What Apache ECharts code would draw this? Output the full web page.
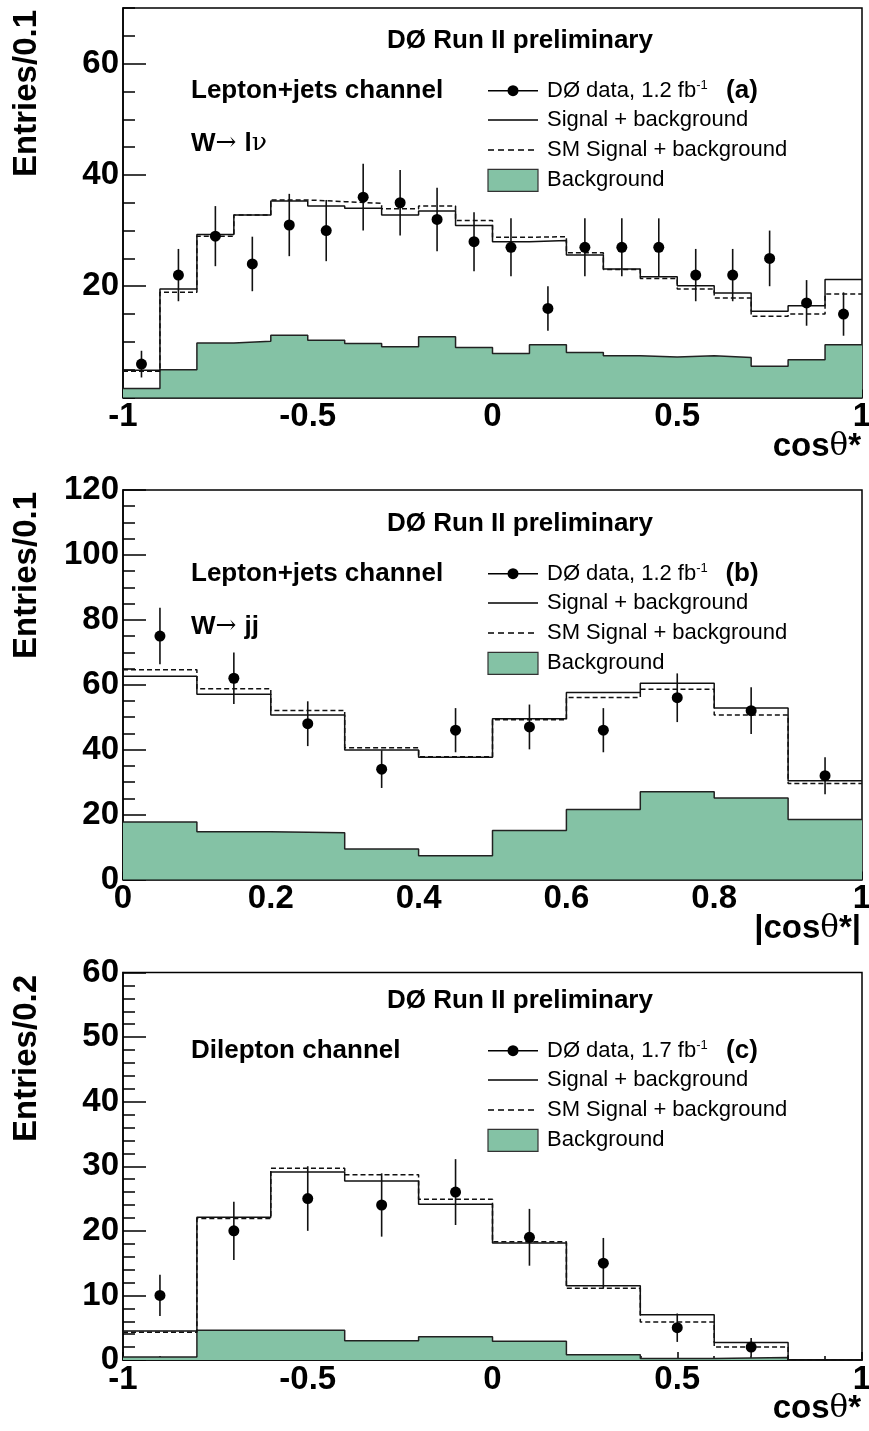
<!DOCTYPE html>
<html>
<head>
<meta charset="utf-8">
<script src="https://cdn.jsdelivr.net/npm/echarts@6/dist/echarts.min.js"></script>
<style>
html, body { margin: 0; padding: 0; background: #fff; }
#chart { width: 869px; height: 1431px; }
</style>
</head>
<body>
<div id="chart"></div>
<script>
// (a) lepton+jets, W -> l nu, cos theta*
const edgesA = [-1, -0.9, -0.8, -0.7, -0.6, -0.5, -0.4, -0.3, -0.2, -0.1, 0, 0.1, 0.2, 0.3, 0.4, 0.5, 0.6, 0.7, 0.8, 0.9, 1]
const bkgA = [1.6, 5.0, 9.8, 10.1, 11.2, 10.3, 9.7, 9.1, 10.9, 9.0, 7.9, 9.5, 8.1, 7.5, 7.3, 7.5, 7.2, 5.6, 6.8, 9.5]
const sigA = [4.9, 19.5, 29.3, 32.8, 35.3, 34.4, 34.0, 32.8, 33.5, 30.9, 28.0, 28.2, 25.6, 23.1, 21.7, 20.1, 18.8, 15.5, 16.5, 21.2]
const smA = [4.7, 18.9, 29.0, 32.8, 35.5, 35.2, 34.9, 33.9, 34.4, 31.8, 28.8, 28.9, 26.0, 23.0, 21.4, 19.5, 17.9, 14.6, 15.0, 18.6]
const dataA = [6, 22, 29, 24, 31, 30, 36, 35, 32, 28, 27, 16, 27, 27, 27, 22, 22, 25, 17, 15]
const errA = [2.4, 4.7, 5.4, 4.9, 5.6, 5.5, 6.0, 5.9, 5.7, 5.3, 5.2, 4.0, 5.2, 5.2, 5.2, 4.7, 4.7, 5.0, 4.1, 3.9]
const xTicksA = [-1, -0.5, 0, 0.5, 1]
const yTicksA = [0, 20, 40, 60]

// (b) lepton+jets, W -> jj, |cos theta*|
const edgesB = [0, 0.1, 0.2, 0.3, 0.4, 0.5, 0.6, 0.7, 0.8, 0.9, 1]
const bkgB = [17.7, 14.7, 14.4, 9.4, 7.3, 15.1, 21.6, 27.0, 25.1, 18.5]
const sigB = [62.6, 57.1, 50.7, 39.9, 37.7, 49.5, 57.6, 60.5, 52.8, 30.4]
const smB = [64.6, 58.8, 52.1, 40.6, 37.8, 49.2, 56.1, 58.6, 50.7, 29.6]
const dataB = [75, 62, 48, 34, 46, 47, 46, 56, 52, 32]
const errB = [8.7, 7.9, 6.9, 5.8, 6.8, 6.9, 6.8, 7.5, 7.2, 5.7]
const xTicksB = [0, 0.2, 0.4, 0.6, 0.8, 1]
const yTicksB = [0, 20, 40, 60, 80, 100, 120]

// (c) dilepton, cos theta*
const edgesC = [-1, -0.8, -0.6, -0.4, -0.2, 0, 0.2, 0.4, 0.6, 0.8, 1]
const bkgC = [0.45, 4.6, 4.6, 3.0, 3.6, 2.9, 0.8, 0.25, 0.4, 0]
const sigC = [4.5, 22.1, 29.1, 27.7, 24.1, 18.1, 11.5, 7.0, 2.7, 0]
const smC = [4.3, 21.9, 29.7, 28.7, 24.9, 18.3, 11.1, 5.9, 2.0, 0]
const dataC = [10, 20, 25, 24, 26, 19, 15, 5, 2, null]
const errC = [3.2, 4.5, 5.0, 4.9, 5.1, 4.4, 3.9, 2.2, 1.4, null]
const xTicksC = [-1, -0.5, 0, 0.5, 1]
const yTicksC = [0, 10, 20, 30, 40, 50, 60]

const runLabel = 'DØ Run II preliminary'
const channels = ['Lepton+jets channel', 'Lepton+jets channel', 'Dilepton channel']
const decays = ['{b|W}{n|\u2192 }{b|l}{n|\u03bd}', '{b|W}{n|\u2192 }{b|jj}', null]
const letters = ['(a)', '(b)', '(c)']
const lumis = ['1.2', '1.2', '1.7']
const yNames = ['Entries/0.1', 'Entries/0.1', 'Entries/0.2']
const xNames = ['{b|cos}{n|\u03b8}{b|*}', '{b||cos}{n|\u03b8}{b|*|}', '{b|cos}{n|\u03b8}{b|*}']
const legendNames = ['Signal + background', 'SM Signal + background', 'Background']

const GREEN = '#84c2a5'
const FONT = '"Liberation Sans", Arial, Helvetica, sans-serif'

const panels = [
  { top: 8, height: 389.5, edges: edgesA, bkg: bkgA, sig: sigA, sm: smA, data: dataA, err: errA,
    xTicks: xTicksA, xMinor: 5, yTicks: yTicksA, yMax: 70, yMinorStep: 5, showZero: false,
    titleY: 41, yNameTop: 10 },
  { top: 490, height: 389.5, edges: edgesB, bkg: bkgB, sig: sigB, sm: smB, data: dataB, err: errB,
    xTicks: xTicksB, xMinor: 4, yTicks: yTicksB, yMax: 120, yMinorStep: 5, showZero: true,
    titleY: 524, yNameTop: 492 },
  { top: 972.5, height: 387.5, edges: edgesC, bkg: bkgC, sig: sigC, sm: smC, data: dataC, err: errC,
    xTicks: xTicksC, xMinor: 5, yTicks: yTicksC, yMax: 60, yMinorStep: 2, showZero: true,
    titleY: 1001, yNameTop: 975 }
]

// histogram outline: one point per bin edge, held flat to the next edge
function steps(edges, vals) {
  const pts = vals.map((v, i) => [edges[i], v])
  pts.push([edges[edges.length - 1], vals[vals.length - 1]])
  return pts
}

function points(edges, vals, errs) {
  const out = []
  vals.forEach((v, i) => {
    if (v != null) out.push([(edges[i] + edges[i + 1]) / 2, v, errs[i]])
  })
  return out
}

function renderPoint(params, api) {
  const x = api.value(0), y = api.value(1), e = api.value(2)
  const c = api.coord([x, y])
  const hi = api.coord([x, y + e])
  const lo = api.coord([x, Math.max(y - e, 0)])
  return {
    type: 'group',
    children: [
      { type: 'line', shape: { x1: c[0], y1: hi[1], x2: c[0], y2: lo[1] },
        style: { stroke: '#111', lineWidth: 1.6 } },
      { type: 'circle', shape: { cx: c[0], cy: c[1], r: 5.5 }, style: { fill: '#000' } }
    ]
  }
}

const grids = [], xAxes = [], yAxes = [], series = [], graphics = []
const tickLabel = { color: '#000', fontSize: 33, fontWeight: 'bold', fontFamily: FONT }

panels.forEach((p, i) => {
  grids.push({ left: 123, right: 7, top: p.top, height: p.height, show: true,
    outerBoundsMode: 'none', containLabel: false,
    borderColor: '#000', borderWidth: 1.5, backgroundColor: 'transparent' })

  xAxes.push({
    type: 'value', gridIndex: i, position: 'bottom',
    min: p.xTicks[0], max: p.xTicks[p.xTicks.length - 1], interval: p.xTicks[1] - p.xTicks[0],
    axisLine: { show: true, onZero: false, lineStyle: { color: '#000', width: 1.5 } },
    axisTick: { inside: true, length: 8, lineStyle: { color: '#000', width: 1.5 } },
    minorTick: { show: true, splitNumber: p.xMinor, length: 4, lineStyle: { color: '#000', width: 1.5 } },
    axisLabel: Object.assign({ margin: 3 }, tickLabel),
    splitLine: { show: false }
  })

  // major ticks with labels
  yAxes.push({
    type: 'value', gridIndex: i, position: 'left',
    min: 0, max: p.yMax, interval: p.yTicks[1] - p.yTicks[0],
    axisLine: { show: true, onZero: false, lineStyle: { color: '#000', width: 1.5 } },
    axisTick: { inside: true, length: 23, lineStyle: { color: '#000', width: 1.5 } },
    axisLabel: Object.assign({ margin: 4, showMinLabel: p.showZero,
      showMaxLabel: p.yMax === p.yTicks[p.yTicks.length - 1] }, tickLabel),
    splitLine: { show: false }
  })
  // minor ticks only
  yAxes.push({
    type: 'value', gridIndex: i, position: 'left',
    min: 0, max: p.yMax, interval: p.yMinorStep,
    axisLine: { show: false, onZero: false },
    axisTick: { inside: true, length: 12, lineStyle: { color: '#000', width: 1.5 } },
    axisLabel: { show: false },
    splitLine: { show: false }
  })

  const base = { xAxisIndex: i, yAxisIndex: 2 * i, symbol: 'none', step: 'end', silent: true }
  series.push(Object.assign({}, base, {
    type: 'line', name: 'Background', z: 2, data: steps(p.edges, p.bkg),
    lineStyle: { color: '#222', width: 1.5 }, areaStyle: { color: GREEN, opacity: 1 }
  }))
  series.push(Object.assign({}, base, {
    type: 'line', name: 'SM Signal + background', z: 3, data: steps(p.edges, p.sm),
    lineStyle: { color: '#111', width: 1.5, type: [5, 3] }
  }))
  series.push(Object.assign({}, base, {
    type: 'line', name: 'Signal + background', z: 4, data: steps(p.edges, p.sig),
    lineStyle: { color: '#111', width: 1.5 }
  }))
  series.push({
    type: 'custom', name: 'DØ data', xAxisIndex: i, yAxisIndex: 2 * i, z: 5,
    renderItem: renderPoint, encode: { x: 0, y: 1 }, data: points(p.edges, p.data, p.err)
  })

  // labels inside the frame
  const t = p.titleY
  const bold = { fontFamily: FONT, fontWeight: 'bold', fontSize: 26, fill: '#000' }
  graphics.push({ type: 'text', x: 520, y: t, style: Object.assign({ text: runLabel, align: 'center', verticalAlign: 'middle' }, bold) })
  graphics.push({ type: 'text', x: 191, y: t + 50, style: Object.assign({ text: channels[i], align: 'left', verticalAlign: 'middle' }, bold) })
  graphics.push({ type: 'text', x: 742, y: t + 50, style: Object.assign({ text: letters[i], align: 'center', verticalAlign: 'middle' }, bold) })
  if (decays[i]) {
    graphics.push({ type: 'text', x: 191, y: t + 102.5, style: {
      text: decays[i], align: 'left', verticalAlign: 'middle',
      rich: {
        b: { fontFamily: FONT, fontWeight: 'bold', fontSize: 26, fill: '#000' },
        n: { fontFamily: '"DejaVu Serif", serif', fontSize: 25, fill: '#000' }
      }
    } })
  }

  // legend
  const rows = [t + 49.7, t + 79, t + 109, t + 139.3]
  const legText = { fontFamily: FONT, fontSize: 22, fill: '#000' }
  graphics.push({ type: 'line', shape: { x1: 488, y1: rows[0], x2: 538, y2: rows[0] }, style: { stroke: '#000', lineWidth: 1.5 } })
  graphics.push({ type: 'circle', shape: { cx: 513, cy: rows[0], r: 5.5 }, style: { fill: '#000' } })
  graphics.push({ type: 'text', x: 547, y: rows[0], style: {
    text: '{t|DØ data, ' + lumis[i] + ' fb}{s|-1}', align: 'left', verticalAlign: 'middle',
    rich: {
      t: { fontFamily: FONT, fontSize: 22, lineHeight: 24, fill: '#000' },
      s: { fontFamily: FONT, fontSize: 13, lineHeight: 24, verticalAlign: 'top', fill: '#000' }
    }
  } })
  graphics.push({ type: 'line', shape: { x1: 488, y1: rows[1], x2: 538, y2: rows[1] }, style: { stroke: '#000', lineWidth: 1.5 } })
  graphics.push({ type: 'text', x: 547, y: rows[1], style: Object.assign({ text: legendNames[0], align: 'left', verticalAlign: 'middle' }, legText) })
  graphics.push({ type: 'line', shape: { x1: 488, y1: rows[2], x2: 538, y2: rows[2] }, style: { stroke: '#000', lineWidth: 1.5, lineDash: [6, 4] } })
  graphics.push({ type: 'text', x: 547, y: rows[2], style: Object.assign({ text: legendNames[1], align: 'left', verticalAlign: 'middle' }, legText) })
  graphics.push({ type: 'rect', shape: { x: 488, y: rows[3] - 11, width: 50, height: 22 }, style: { fill: GREEN, stroke: '#333', lineWidth: 1.2 } })
  graphics.push({ type: 'text', x: 547, y: rows[3], style: Object.assign({ text: legendNames[2], align: 'left', verticalAlign: 'middle' }, legText) })

  // axis titles
  graphics.push({ type: 'text', x: 27, y: p.yNameTop, rotation: Math.PI / 2, style: {
    text: yNames[i], align: 'right', verticalAlign: 'middle',
    fontFamily: FONT, fontWeight: 'bold', fontSize: 33, fill: '#000'
  } })
  graphics.push({ type: 'text', x: 861, y: p.top + p.height + 49, style: {
    text: xNames[i], align: 'right', verticalAlign: 'middle',
    rich: {
      b: { fontFamily: FONT, fontWeight: 'bold', fontSize: 33, fill: '#000' },
      n: { fontFamily: '"DejaVu Serif", serif', fontSize: 31, fill: '#000' }
    }
  } })
})

const chart = echarts.init(document.getElementById('chart'), null, { renderer: 'canvas' })
chart.setOption({
  animation: false,
  backgroundColor: '#fff',
  grid: grids,
  xAxis: xAxes,
  yAxis: yAxes,
  series: series,
  graphic: graphics
})
</script>
</body>
</html>
